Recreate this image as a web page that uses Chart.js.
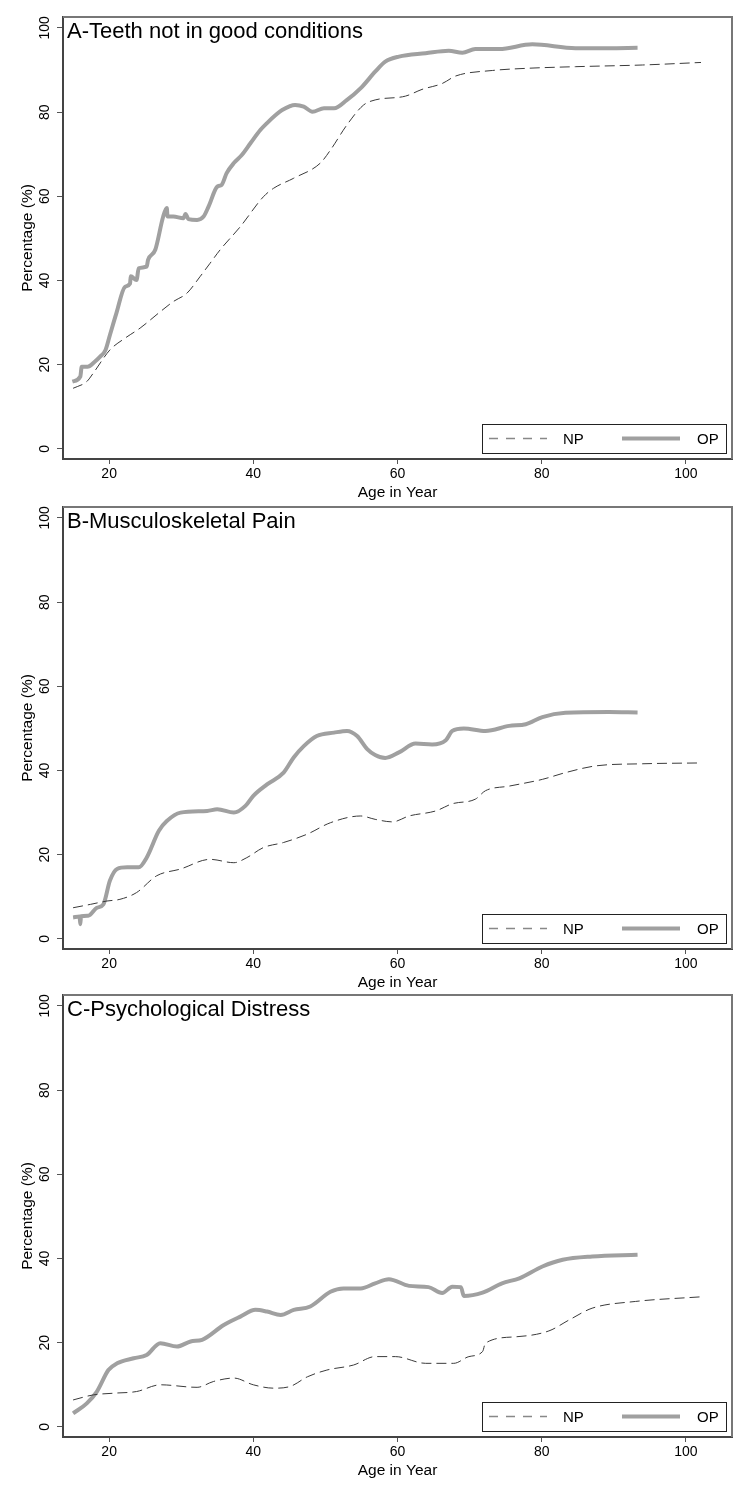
<!DOCTYPE html>
<html>
<head>
<meta charset="utf-8">
<script src="https://cdn.jsdelivr.net/npm/chart.js@4"></script>
<style>
  body { margin:0; background:#fff; width:750px; height:1500px; position:relative; }
  .panel { position:absolute; left:0; width:750px; height:500px; }
</style>
</head>
<body>
<div class="panel" style="top:0px"><canvas id="chartA" width="750" height="500"></canvas></div>
<div class="panel" style="top:490px"><canvas id="chartB" width="750" height="500"></canvas></div>
<div class="panel" style="top:978px"><canvas id="chartC" width="750" height="500"></canvas></div>
<script>
// tick labels
const xTicks = [20, 40, 60, 80, 100];
const yTicks = [0, 20, 40, 60, 80, 100];
const seriesNames = ["NP", "OP"];
const panelTitles = ["A-Teeth not in good conditions", "B-Musculoskeletal Pain", "C-Psychological Distress"];

// A - teeth
const aOpAge = [14.9,16.0,16.2,17.0,18.0,18.75,19.5,20.1,21.0,22.2,22.9,23.0,23.8,24.1,25.2,25.4,26.4,27.5,28.0,28.1,28.9,30.3,30.6,31.0,32.2,33.1,33.8,35.0,35.6,36.3,37.3,38.4,39.6,41.0,41.9,43.1,44.0,45.8,47.0,48.2,49.8,51.2,53.0,54.9,56.9,58.3,60.2,63.9,67.1,69.0,70.8,74.1,78.7,84.7,89.3,93.3];
const aOpPct = [16.0,17.2,19.5,19.5,20.7,21.9,23.5,27.0,32.2,38.5,39.3,41.0,40.1,42.9,43.3,44.9,47.3,55.2,57.2,55.2,55.2,54.8,55.8,54.6,54.4,55.2,57.6,62.3,62.7,65.5,67.9,69.8,72.6,75.8,77.4,79.3,80.5,81.7,81.3,80.1,80.9,80.9,82.9,85.7,89.6,92.0,93.2,94.0,94.6,94.1,95.0,95.0,96.1,95.2,95.2,95.3];
const aNpAge = [15.0,16.9,17.8,20.1,22.2,24.3,27.1,28.9,30.8,32.6,34.0,35.4,38.2,41.4,42.8,45.6,49.3,50.7,53.0,55.3,56.9,61.1,63.4,66.2,68.1,73.2,77.8,84.7,94.0,102.1];
const aNpPct = [14.4,16.0,18.0,23.5,26.3,28.7,32.6,35.0,37.0,40.9,44.1,47.3,52.8,59.9,61.9,64.3,67.9,71.0,77.0,81.7,82.9,83.8,85.4,86.8,88.6,89.9,90.4,90.8,91.2,91.8];

// B - musculoskeletal pain
const bOpAge = [15.0,15.9,16.0,16.1,17.1,18.3,19.2,20.1,21.1,22.5,24.1,25.2,26.9,28.0,29.9,33.6,35.0,37.3,38.9,40.0,41.9,44.2,45.6,47.0,48.8,51.2,53.0,54.4,55.8,56.9,58.3,60.2,62.5,64.8,66.7,67.6,69.2,72.2,75.5,77.8,80.1,83.3,89.3,93.3];
const bOpPct = [5.1,5.3,3.5,5.4,5.5,7.4,8.2,13.8,16.6,17.0,17.0,19.3,25.7,28.0,30.0,30.4,30.8,30.0,31.6,34.0,36.7,39.5,43.1,45.8,48.2,49.0,49.4,48.2,45.1,43.7,43.0,44.3,46.4,46.2,47.2,49.4,50.0,49.4,50.6,51.0,52.7,53.7,53.9,53.8];
const bNpAge = [15.0,17.4,19.7,21.5,23.8,26.6,29.9,34.0,37.3,39.1,41.4,44.2,47.5,50.7,54.9,56.9,59.3,61.6,65.3,67.6,70.8,72.2,75.5,80.1,83.3,87.5,94.0,102.1];
const bNpPct = [7.4,8.2,9.0,9.4,11.0,15.0,16.6,18.9,18.1,19.3,21.7,22.9,24.9,27.6,29.2,28.4,27.8,29.2,30.4,32.1,33.2,35.2,36.3,37.9,39.5,41.1,41.6,41.8];

// C - psychological distress
const cOpAge = [15.0,16.9,18.3,19.9,21.1,23.4,25.2,27.1,29.4,31.3,32.9,35.9,38.2,40.3,41.9,43.8,45.6,47.9,50.7,52.5,54.9,56.9,58.8,61.6,64.3,66.2,67.6,68.8,69.2,71.8,74.5,76.9,80.1,82.9,87.0,93.3];
const cOpPct = [3.2,5.6,8.4,13.5,15.1,16.3,17.1,19.9,19.1,20.3,20.7,24.2,26.2,27.8,27.4,26.6,27.8,28.6,32.1,32.9,32.9,34.1,35.1,33.5,33.2,31.8,33.3,33.2,31.1,31.9,34.1,35.3,38.1,39.7,40.5,40.9];
const cNpAge = [15.0,17.8,20.6,23.8,27.1,32.2,34.5,37.3,40.0,42.8,45.1,47.5,50.2,53.9,56.9,59.7,63.9,67.8,69.9,71.8,72.2,76.4,81.0,83.8,87.0,93.0,102.1];
const cNpPct = [6.4,7.6,8.0,8.4,10.0,9.4,10.8,11.6,10.0,9.2,9.6,11.9,13.5,14.7,16.7,16.7,15.1,15.1,16.7,17.9,19.9,21.4,22.8,25.4,28.2,29.8,30.9];

const FONT = '"Liberation Sans", Arial, sans-serif';
Chart.defaults.font.family = FONT;
Chart.defaults.color = '#000';

function pts(ages, vals){ return ages.map((a,i)=>({x:a, y:vals[i]})); }

// grey frame on top / right of plot region, and the panel title inside it
const frame = {
  id:'frame',
  afterDraw(chart, args, opts){
    const {ctx, chartArea:a} = chart;
    ctx.save();
    ctx.strokeStyle = '#777';
    ctx.lineWidth = 2;
    ctx.beginPath();
    ctx.moveTo(a.left, a.top); ctx.lineTo(a.right, a.top); ctx.lineTo(a.right, a.bottom);
    ctx.stroke();
    ctx.fillStyle = '#000';
    ctx.font = '22px ' + FONT;
    ctx.textBaseline = 'alphabetic';
    ctx.fillText(opts.text, a.left + 4, a.top + 20.5);
    ctx.restore();
  }
};

// boxed legend inside plot, bottom right
const boxLegend = {
  id:'boxLegend',
  afterDraw(chart){
    const {ctx, chartArea:a} = chart;
    const ds = chart.data.datasets;
    const w = 244, h = 29;
    const L = a.right - 6 - w, T = a.bottom - 6 - h, cy = T + h/2;
    ctx.save();
    ctx.fillStyle = '#fff';
    ctx.fillRect(L, T, w, h);
    ctx.strokeStyle = '#222'; ctx.lineWidth = 1;
    ctx.strokeRect(L+0.5, T+0.5, w, h);
    // NP sample
    ctx.strokeStyle = '#888'; ctx.lineWidth = 1.5; ctx.setLineDash([9,8]);
    ctx.beginPath(); ctx.moveTo(L+7, cy); ctx.lineTo(L+65, cy); ctx.stroke();
    // OP sample
    ctx.setLineDash([]);
    ctx.strokeStyle = ds[1].borderColor; ctx.lineWidth = 4;
    ctx.beginPath(); ctx.moveTo(L+140, cy); ctx.lineTo(L+198, cy); ctx.stroke();
    ctx.fillStyle = '#000'; ctx.font = '15px ' + FONT; ctx.textBaseline = 'middle';
    ctx.fillText(ds[0].label, L+81, cy+1);
    ctx.fillText(ds[1].label, L+215, cy+1);
    ctx.restore();
  }
};

function makeChart(id, title, npAge, npPct, opAge, opPct){
  new Chart(document.getElementById(id), {
    type:'line',
    data:{
      datasets:[
        {label:seriesNames[0], data:pts(npAge, npPct), borderColor:'#3a3a3a', borderWidth:1, borderDash:[10,5], pointRadius:0, cubicInterpolationMode:'monotone', fill:false},
        {label:seriesNames[1], data:pts(opAge, opPct), borderColor:'#a0a0a0', borderWidth:4, pointRadius:0, cubicInterpolationMode:'monotone', fill:false}
      ]
    },
    options:{
      responsive:false,
      animation:false,
      layout:{padding:{top:17, right:18, bottom:0, left:0}},
      plugins:{
        legend:{display:false},
        tooltip:{enabled:false},
        title:{display:false},
        frame:{text:title}
      },
      scales:{
        x:{type:'linear', min:13.6, max:106.4,
           afterBuildTicks: s => { s.ticks = xTicks.map(v=>({value:v})); },
           afterFit: s => { s.height = 41; },
           grid:{drawOnChartArea:false, drawTicks:true, tickLength:5, color:'#555'},
           border:{display:true, color:'#444', width:2},
           ticks:{padding:2, maxRotation:0, font:{size:14}, color:'#000'},
           title:{display:true, text:'Age in Year', color:'#000', font:{size:15.5, lineHeight:1}, padding:{top:0, bottom:0}}},
        y:{type:'linear', min:-2.4, max:102.6,
           afterBuildTicks: s => { s.ticks = yTicks.map(v=>({value:v})); },
           afterFit: s => { s.width = 63; },
           grid:{drawOnChartArea:false, drawTicks:true, tickLength:6, color:'#555'},
           border:{display:true, color:'#444', width:2},
           ticks:{minRotation:90, maxRotation:90, crossAlign:'center', padding:0, font:{size:14}, color:'#000'},
           title:{display:true, text:'Percentage (%)', color:'#000', font:{size:15.5, lineHeight:1}, padding:{top:20, bottom:0}}}
      }
    },
    plugins:[frame, boxLegend]
  });
}

makeChart('chartA', panelTitles[0], aNpAge, aNpPct, aOpAge, aOpPct);
makeChart('chartB', panelTitles[1], bNpAge, bNpPct, bOpAge, bOpPct);
makeChart('chartC', panelTitles[2], cNpAge, cNpPct, cOpAge, cOpPct);
</script>
</body>
</html>
